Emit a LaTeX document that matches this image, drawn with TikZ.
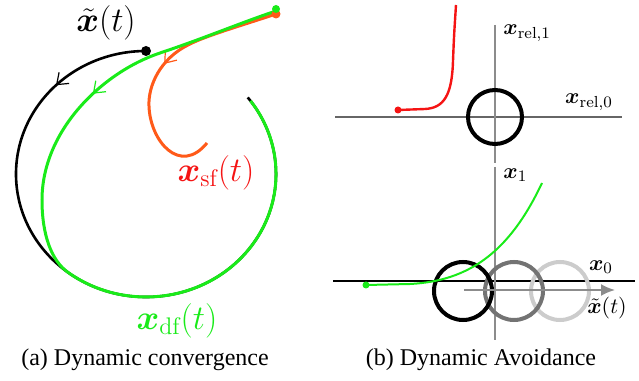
\documentclass[tikz,border=0pt]{standalone}
\usepackage{amsmath,bm}
\usepackage{fontspec}
\newfontfamily\capfont{Liberation Serif}
\usetikzlibrary{arrows.meta,decorations.markings}
\definecolor{dfgreen}{RGB}{25,235,25}
\definecolor{sforange}{RGB}{255,90,25}
\definecolor{sfred}{RGB}{245,20,20}

\begin{document}
\begin{tikzpicture}[x=0.5pt,y=0.5pt,every node/.style={inner sep=0pt},
  axis/.style={black!55,line width=0.75pt},
  obst/.style={line width=2pt},
  bigmath/.style={font=\LARGE},
  smallmath/.style={font=\fontsize{10.95}{13}\selectfont},
  capt/.style={font=\capfont\fontsize{12}{14}\selectfont,anchor=base},
  midarrow/.style={postaction={decorate},decoration={markings,
    mark=at position #1 with {\arrow{Straight Barb[length=5pt,width=7.5pt,line width=0.6pt]}}}}]
\useasboundingbox (0,0) rectangle (639,381);

% (a) dynamic convergence
\coordinate (start) at (276,370);
\coordinate (ref0) at (146,330);
\coordinate (merge) at (67.8,108.8);
\draw[line width=1.3pt,midarrow=0.145] (ref0) arc[start angle=90,end angle=398.5,x radius=130,y radius=123];
\draw[sforange,line width=1.5pt,midarrow=0.47] (276,367) .. controls (240,355) and (205,345) .. (188,336)
  .. controls (160,322) and (148,295) .. (149,275) .. controls (150,240) and (180,205) .. (207,238);
\draw[dfgreen,line width=1.5pt,midarrow=0.265] (start) .. controls (240,358) and (205,343) .. (160,328)
  .. controls (103,309) and (42,251) .. (42,181) .. controls (42,146) and (51.5,120.4) .. (merge)
  arc[start angle=233,end angle=396.5,x radius=130,y radius=123];
\fill (ref0) circle (5);
\fill[sforange] (276,367) circle (4.5);
\fill[dfgreen] (276,372) circle (4);
\node[bigmath] (xref) at (106,358) {$\tilde{\bm x}(t)$};
\node[bigmath,sfred] (xsf) at (216,208) {$\bm x_{\mathrm{sf}}(t)$};
\node[bigmath,dfgreen] (xdf) at (177,60) {$\bm x_{\mathrm{df}}(t)$};
\node[capt] (capa) at (145,15) {(a) Dynamic convergence};

% (b) dynamic avoidance, relative frame
\draw[axis,black!60] (335,264) -- (622,264);
\draw[axis,black!45] (495,356) -- (495,218);
\draw[obst] (495,264) circle (27);
\draw[sfred,line width=1.2pt] (398,271) -- (425,272) .. controls (444,273) and (452,286) .. (453,320)
  .. controls (454,345) .. (456,376);
\fill[sfred] (398,271) circle (3.5);
\node[smallmath,anchor=west] (xr1) at (503,348) {$\bm x_{\mathrm{rel},1}$};
\node[smallmath] (xr0) at (589,279) {$\bm x_{\mathrm{rel},0}$};

% (b) dynamic avoidance, world frame
\draw[black,line width=0.7pt] (333,100) -- (635,100);
\draw[axis,black!45] (495,214) -- (495,41);
\draw[obst,black!20] (560,90) circle (29);
\draw[obst,black!55] (514,90) circle (29);
\draw[obst] (463,90) circle (29);
\coordinate (cur) at (464,91);
\coordinate (fut) at (615,91);
\draw[black!45,line width=1pt,-{Latex[length=7pt,width=6pt]}] (cur) -- (fut);
\draw[dfgreen,line width=1pt] (366,96) -- (410,97) .. controls (470,100) and (510,130) .. (542,198);
\fill[dfgreen] (366,96) circle (3.5);
\node[smallmath,anchor=west] (x1) at (503,206) {$\bm x_1$};
\node[smallmath] (x0) at (601,114) {$\bm x_0$};
\node[smallmath] (xt) at (607,73) {$\tilde{\bm x}(t)$};
\node[capt] (capb) at (481,15) {(b) Dynamic Avoidance};
\end{tikzpicture}
\end{document}
